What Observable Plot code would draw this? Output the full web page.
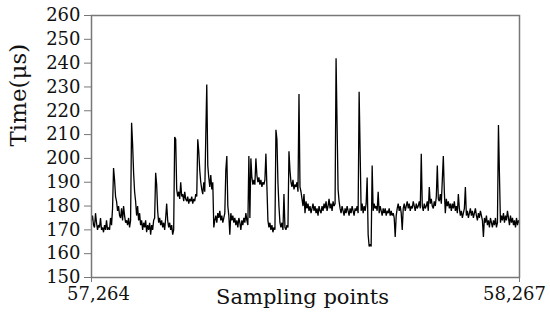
<!DOCTYPE html>
<html>
<head>
<meta charset="utf-8">
<script src="https://cdn.jsdelivr.net/npm/d3@7"></script>
<script src="https://cdn.jsdelivr.net/npm/@observablehq/plot@0.6"></script>
<style>
  body { margin: 0; background: #fff; }
  #chart svg { font-family: "DejaVu Serif", serif; }
</style>
</head>
<body>
<div id="chart"></div>
<script>
// ---- data ----
const xStart = 57264;
const xEnd = 58267;
const xTicks = [57264, 58267];
const xTickLabels = ["57,264", "58,267"];
const yTicks = [150, 160, 170, 180, 190, 200, 210, 220, 230, 240, 250, 260];
const yLabel = "Time(μs)";
const xLabel = "Sampling points";

// time values (µs), in sampling order
const times = [
  174,176,172,171,177,173,170,172,171,175,
  170,171,169,172,170,174,170,171,170,175,
  172,179,196,191,184,182,178,180,176,175,
  179,174,180,176,173,174,172,175,171,174,
  215,206,194,186,182,176,180,174,177,172,
  174,170,173,171,174,169,172,170,173,168,
  172,170,174,175,194,189,178,173,175,172,
  174,171,173,170,175,181,174,171,173,170,
  172,168,170,209,208,187,184,186,183,190,
  184,185,182,186,183,182,184,181,183,182,
  184,181,183,182,185,184,208,203,195,190,
  187,185,190,186,209,231,197,192,188,193,
  187,190,171,174,176,173,177,175,178,174,
  176,173,175,177,195,201,180,176,168,177,
  174,176,173,175,172,174,171,175,173,170,
  174,172,175,173,177,174,172,201,175,200,
  192,189,191,189,200,193,190,192,189,191,
  188,190,189,191,202,188,174,171,173,170,
  172,169,171,170,212,208,190,180,173,171,
  173,170,185,171,170,172,171,203,195,190,
  188,191,187,189,188,190,186,227,188,186,
  183,180,185,177,182,179,181,178,180,177,
  179,181,178,180,177,179,176,180,178,177,
  180,178,181,179,182,178,180,183,179,181,
  178,182,180,181,242,214,187,182,179,177,
  180,178,176,179,177,180,178,176,179,177,
  180,178,176,179,178,180,177,228,203,178,
  181,177,180,178,181,192,168,163,164,163,
  197,178,181,179,180,178,186,177,180,178,
  176,179,177,179,176,178,177,179,176,178,
  176,177,175,167,176,179,181,178,180,177,
  170,179,181,178,180,182,179,181,178,180,
  179,182,180,178,181,179,180,182,179,202,
  180,178,181,179,180,182,178,188,181,183,
  180,179,182,180,184,197,183,182,185,181,
  191,201,186,177,183,180,182,179,181,178,
  181,179,182,178,180,177,185,179,176,178,
  175,177,179,188,176,178,175,177,179,176,
  178,175,177,179,176,174,177,175,178,176,
  174,167,175,173,176,172,174,171,175,173,
  171,174,172,175,171,173,214,193,173,176,
  174,177,173,176,174,178,175,172,176,173,
  175,172,174,171,175,172,174,173
];

const step = (xEnd - xStart) / (times.length - 1);
const series = times.map((t, i) => ({ sample: xStart + i * step, time: t }));
const labelOf = (d) => xTickLabels[xTicks.indexOf(d)];

const chart = Plot.plot({
  width: 550,
  height: 323,
  marginLeft: 91,
  marginRight: 31,
  marginTop: 15,
  marginBottom: 46,
  style: { fontFamily: "DejaVu Serif, serif", fontSize: "18px", color: "#111", background: "#fff" },
  x: { domain: [xStart, xEnd] },
  y: { domain: [150, 260] },
  marks: [
    Plot.line(series, { x: "sample", y: "time", stroke: "#000", strokeWidth: 1.3, strokeLinejoin: "miter" }),
    Plot.frame({ stroke: "#777", strokeWidth: 1.5 }),
    Plot.axisY(yTicks, { tickSize: 7, tickPadding: 4, stroke: "#777", fontSize: 18, label: null }),
    Plot.axisX(xTicks, { tickSize: 5, stroke: "#777", tickFormat: () => "", label: null }),
    Plot.axisX([xTicks[0]], { tickSize: 0, tickPadding: 10, tickFormat: labelOf, dx: 7, fontSize: 18, label: null }),
    Plot.axisX([xTicks[1]], { tickSize: 0, tickPadding: 10, tickFormat: labelOf, dx: -5, fontSize: 18, label: null }),
    Plot.text([xLabel], { frameAnchor: "bottom", dy: 20, dx: -3, fontSize: 21, lineAnchor: "middle", fill: "#111" }),
    Plot.text([yLabel], { frameAnchor: "left", rotate: -90, dx: -73, fontSize: 23, fill: "#111" })
  ]
});
document.getElementById("chart").append(chart);
</script>
</body>
</html>
